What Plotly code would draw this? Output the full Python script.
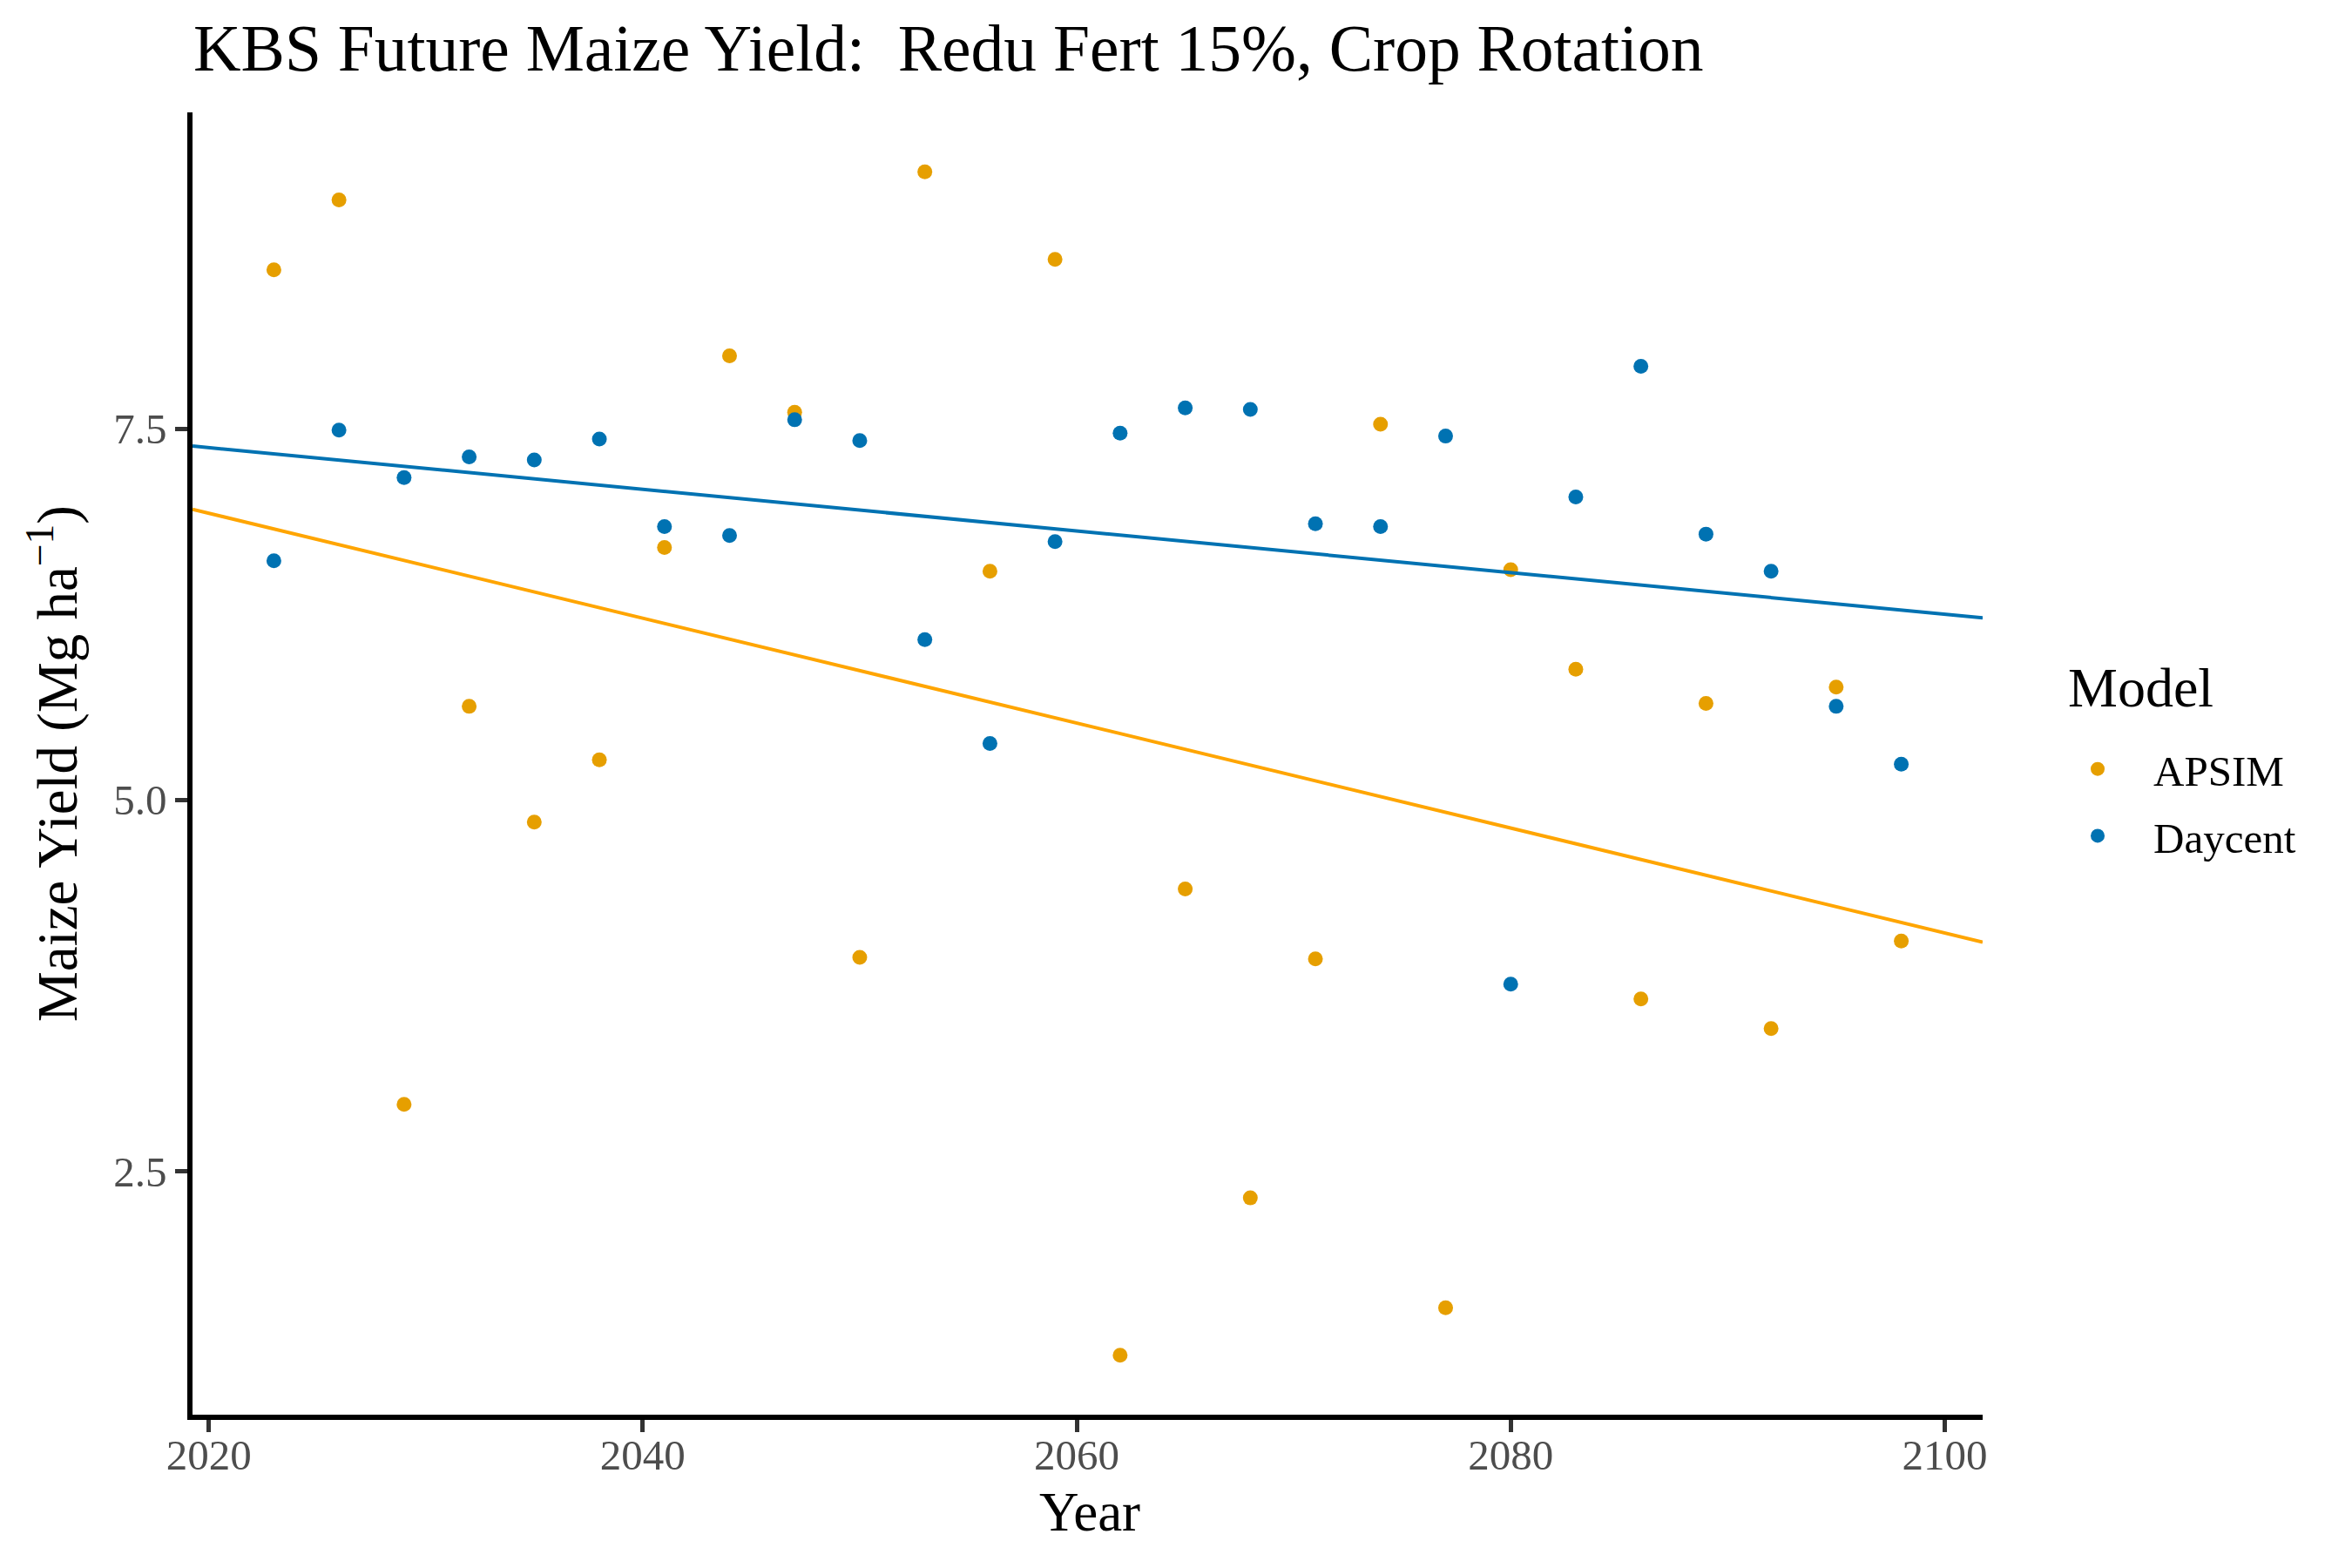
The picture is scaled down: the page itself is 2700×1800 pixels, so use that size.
import numpy as np
import plotly.graph_objects as go

# years sampled every 3 years
years = [2023, 2026, 2029, 2032, 2035, 2038, 2041, 2044, 2047, 2050, 2053, 2056, 2059,
         2062, 2065, 2068, 2071, 2074, 2077, 2080, 2083, 2086, 2089, 2092, 2095, 2098]

apsim_yield = [8.57, 9.04, 2.95, 5.63, 4.85, 5.27, 6.70, 7.99, 7.61, 3.94, 9.23, 6.54, 8.64,
               1.26, 4.40, 2.32, 3.93, 7.53, 1.58, 6.55, 5.88, 3.66, 5.65, 3.46, 5.76, 4.05]

daycent_yield = [6.61, 7.49, 7.17, 7.31, 7.29, 7.43, 6.84, 6.78, 7.56, 7.42, 6.08, 5.38, 6.74,
                 7.47, 7.64, 7.63, 6.86, 6.84, 7.45, 3.76, 7.04, 7.92, 6.79, 6.54, 5.63, 5.24]

models = ["APSIM", "Daycent"]
point_colors = {"APSIM": "#E69F00", "Daycent": "#0072B2"}
line_colors = {"APSIM": "#FFA500", "Daycent": "#0072B2"}

FONT = "Liberation Serif"

x_min, x_max = 2019.25, 2101.75
y_min, y_max = 0.86, 9.63

fig = go.Figure()

# points
for name, vals in zip(models, [apsim_yield, daycent_yield]):
    fig.add_trace(go.Scatter(
        x=years, y=vals, mode="markers", name=name,
        marker=dict(color=point_colors[name], size=17),
        legendgroup=name,
    ))

# linear trend lines (lm fit over the whole x range)
xs = np.array([x_min, x_max])
for name, vals in zip(models, [apsim_yield, daycent_yield]):
    slope, icpt = np.polyfit(years, vals, 1)
    fig.add_trace(go.Scatter(
        x=xs, y=slope * xs + icpt, mode="lines",
        line=dict(color=line_colors[name], width=4),
        showlegend=False, legendgroup=name, hoverinfo="skip",
    ))

axis_common = dict(
    showgrid=False, zeroline=False,
    showline=True, linecolor="black", linewidth=5.5,
    ticks="outside", ticklen=14, tickwidth=5, tickcolor="#333333",
    tickfont=dict(family=FONT, size=49, color="#4D4D4D"),
)

fig.update_xaxes(range=[x_min, x_max], tickvals=[2020, 2040, 2060, 2080, 2100],
                 ticklabelstandoff=-16, **axis_common)
fig.update_yaxes(
    range=[y_min, y_max], tickvals=[2.5, 5.0, 7.5], ticktext=["2.5", "5.0", "7.5"],
    title=dict(text="Maize Yield (Mg ha<sup>\u22121</sup>)",
               font=dict(family=FONT, size=65, color="black"), standoff=22),
    **axis_common,
)

# x axis title and legend title as plain text, placed like the ggplot output
fig.add_annotation(
    text="Year", xref="paper", yref="paper", x=0.5012, y=-0.0749,
    xanchor="center", yanchor="middle", showarrow=False,
    font=dict(family=FONT, size=63, color="black"),
)
fig.add_annotation(
    text="Model", xref="paper", yref="paper", x=1.0467, y=0.558,
    xanchor="left", yanchor="middle", showarrow=False,
    font=dict(family=FONT, size=64, color="black"),
)

fig.update_layout(
    width=2700, height=1800,
    plot_bgcolor="white", paper_bgcolor="white",
    margin=dict(l=221, r=424, t=129, b=176),
    title=dict(text="KBS Future Maize Yield:  Redu Fert 15%, Crop Rotation",
               font=dict(family=FONT, size=75.5, color="black"),
               x=222 / 2700, xanchor="left", y=1 - 55 / 1800, yanchor="middle"),
    legend=dict(
        font=dict(family=FONT, size=49, color="black"),
        x=1.0331, xanchor="left", y=0.47, yanchor="middle",
        itemwidth=118, bgcolor="rgba(0,0,0,0)",
    ),
    showlegend=True,
)

# drop the default page margin so the figure sits at the window corner
fig.write_html("out.html", config={"displayModeBar": False},
               post_script="document.body.style.margin='0';")
